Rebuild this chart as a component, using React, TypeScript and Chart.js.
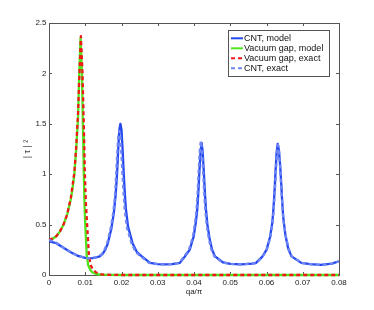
import React, { useEffect, useRef } from "react";
import { Chart, registerables } from "chart.js";

Chart.register(...registerables);

// ---- data ----
const cntModelX = [0, 0.002, 0.004, 0.006, 0.008, 0.010, 0.011, 0.012, 0.013, 0.0140, 0.0148, 0.0155, 0.0162, 0.0172, 0.0179, 0.0184, 0.0188, 0.0191, 0.0194, 0.0197, 0.0200, 0.0203, 0.0206, 0.0209, 0.0212, 0.0218, 0.0231, 0.0242, 0.0256, 0.0279, 0.030, 0.032, 0.034,
  0.0361, 0.0374, 0.0388, 0.0399, 0.0405, 0.0409, 0.0412, 0.0415, 0.0418, 0.0421, 0.0424, 0.0427, 0.0430, 0.0433, 0.0437, 0.0443, 0.0450, 0.0458, 0.0480, 0.050, 0.053, 0.056,
  0.0571, 0.0588, 0.0600, 0.0610, 0.0616, 0.0619, 0.0622, 0.0625, 0.0628, 0.0631, 0.0634, 0.0637, 0.0640, 0.0643, 0.0646, 0.0652, 0.0660, 0.0669, 0.0696, 0.072, 0.075, 0.078, 0.080];
const cntModelY = [0.335, 0.315, 0.27, 0.225, 0.19, 0.17, 0.165, 0.167, 0.175, 0.185, 0.21, 0.25, 0.31, 0.46, 0.62, 0.8, 1.02, 1.25, 1.44, 1.5, 1.44, 1.25, 1.02, 0.82, 0.66, 0.48, 0.31, 0.23, 0.185, 0.12, 0.108, 0.105, 0.108,
  0.12, 0.18, 0.25, 0.38, 0.52, 0.65, 0.82, 1.03, 1.22, 1.31, 1.22, 1.03, 0.82, 0.65, 0.5, 0.36, 0.25, 0.185, 0.125, 0.11, 0.105, 0.113,
  0.12, 0.18, 0.25, 0.38, 0.52, 0.65, 0.82, 1.03, 1.22, 1.30, 1.24, 1.12, 0.95, 0.75, 0.58, 0.40, 0.26, 0.185, 0.12, 0.108, 0.1, 0.112, 0.135];

const vacModelX = [0, 0.001, 0.002, 0.003, 0.004, 0.005, 0.006, 0.0065, 0.007, 0.0075, 0.008, 0.0083, 0.0087, 0.0091, 0.0094, 0.0096, 0.0098, 0.0100, 0.0104, 0.0108, 0.0114, 0.012, 0.013, 0.014, 0.016, 0.020, 0.040, 0.060, 0.080];
const vacModelY = [0.35, 0.36, 0.385, 0.43, 0.5, 0.6, 0.75, 0.86, 1.0, 1.25, 1.55, 1.95, 2.35, 2.0, 1.4, 1.0, 0.7, 0.5, 0.2, 0.1, 0.05, 0.025, 0.01, 0.004, 0.001, 0, 0, 0, 0];

const vacExactX = [0, 0.001, 0.002, 0.003, 0.004, 0.005, 0.006, 0.007, 0.0075, 0.008, 0.0084, 0.0088, 0.0092, 0.0096, 0.0099, 0.0102, 0.0106, 0.0110, 0.0115, 0.012, 0.013, 0.014, 0.015, 0.017, 0.020, 0.040, 0.060, 0.080];
const vacExactY = [0.35, 0.36, 0.385, 0.43, 0.5, 0.6, 0.76, 1.02, 1.27, 1.6, 2.0, 2.37, 2.05, 1.5, 1.0, 0.7, 0.45, 0.2, 0.1, 0.06, 0.025, 0.01, 0.004, 0.001, 0, 0, 0, 0];

const cntExactX = [0, 0.002, 0.004, 0.006, 0.008, 0.010, 0.011, 0.012, 0.013, 0.0138, 0.0146, 0.0153, 0.0160, 0.0170, 0.0177, 0.0182, 0.0185, 0.0188, 0.0191, 0.0194, 0.0197, 0.0200, 0.0203, 0.0206, 0.0209, 0.0215, 0.0228, 0.0239, 0.0253, 0.0276, 0.030, 0.032, 0.034,
  0.0359, 0.0372, 0.0386, 0.0397, 0.0403, 0.0407, 0.0410, 0.0413, 0.0416, 0.0419, 0.0422, 0.0425, 0.0428, 0.0431, 0.0435, 0.0441, 0.0448, 0.0456, 0.0478, 0.050, 0.053, 0.056,
  0.0572, 0.0589, 0.0601, 0.0611, 0.0617, 0.0620, 0.0623, 0.0626, 0.0629, 0.0632, 0.0635, 0.0638, 0.0641, 0.0644, 0.0647, 0.0653, 0.0661, 0.0670, 0.0697, 0.072, 0.075, 0.078, 0.080];
const cntExactY = [0.35, 0.32, 0.27, 0.225, 0.19, 0.17, 0.165, 0.167, 0.175, 0.185, 0.21, 0.25, 0.31, 0.46, 0.61, 0.78, 0.98, 1.19, 1.37, 1.43, 1.37, 1.19, 0.98, 0.8, 0.64, 0.47, 0.31, 0.23, 0.185, 0.12, 0.108, 0.105, 0.108,
  0.12, 0.18, 0.25, 0.38, 0.52, 0.65, 0.82, 1.04, 1.24, 1.33, 1.24, 1.04, 0.82, 0.65, 0.5, 0.36, 0.25, 0.185, 0.125, 0.11, 0.105, 0.113,
  0.12, 0.18, 0.25, 0.38, 0.52, 0.65, 0.82, 1.03, 1.21, 1.29, 1.22, 1.05, 0.85, 0.67, 0.53, 0.39, 0.26, 0.185, 0.12, 0.108, 0.1, 0.112, 0.135];

const seriesLabels = ["CNT, model", "Vacuum gap, model", "Vacuum gap, exact", "CNT, exact"];
const xTickValues = [0, 0.01, 0.02, 0.03, 0.04, 0.05, 0.06, 0.07, 0.08];
const xTickLabels = ["0", "0.01", "0.02", "0.03", "0.04", "0.05", "0.06", "0.07", "0.08"];
const yTickValues = [0, 0.5, 1, 1.5, 2, 2.5];
const yTickLabels = ["0", "0.5", "1", "1.5", "2", "2.5"];
const xTitle = "qa/π";
const yTitle = "| τ | ²";

const FONT = "'Liberation Sans', Arial, sans-serif";

const pts = (xs: number[], ys: number[]) => xs.map((x, i) => ({ x, y: ys[i] }));

const framePlugin = {
  id: "frameTicks",
  beforeDatasetsDraw(chart: any) {
    const { ctx, chartArea: a, scales } = chart;
    ctx.save();
    ctx.strokeStyle = "#555";
    ctx.lineWidth = 1;
    ctx.strokeRect(Math.round(a.left) + 0.5, Math.round(a.top) + 0.5, Math.round(a.right - a.left), Math.round(a.bottom - a.top));
    const tl = 3;
    ctx.beginPath();
    xTickValues.forEach((v) => {
      const px = Math.round(scales.x.getPixelForValue(v)) + 0.5;
      ctx.moveTo(px, a.bottom);
      ctx.lineTo(px, a.bottom - tl);
      ctx.moveTo(px, a.top);
      ctx.lineTo(px, a.top + tl);
    });
    yTickValues.forEach((v) => {
      const py = Math.round(scales.y.getPixelForValue(v)) + 0.5;
      ctx.moveTo(a.left, py);
      ctx.lineTo(a.left + tl, py);
      ctx.moveTo(a.right, py);
      ctx.lineTo(a.right - tl, py);
    });
    ctx.stroke();
    ctx.restore();
  },
};

const legendPlugin = {
  id: "customLegend",
  afterDraw(chart: any) {
    const { ctx, chartArea: a } = chart;
    const boxRight = a.right - 10;
    const boxLeft = boxRight - 101;
    const boxTop = a.top + 7;
    const rowH = 10;
    const n = chart.data.datasets.length;
    const boxH = n * rowH + 6;
    ctx.save();
    ctx.fillStyle = "#fff";
    ctx.fillRect(boxLeft, boxTop, boxRight - boxLeft, boxH);
    ctx.strokeStyle = "#555";
    ctx.lineWidth = 1;
    ctx.strokeRect(Math.round(boxLeft) + 0.5, Math.round(boxTop) + 0.5, Math.round(boxRight - boxLeft), Math.round(boxH));
    ctx.font = `9px ${FONT}`;
    ctx.textBaseline = "middle";
    ctx.textAlign = "left";
    chart.data.datasets.forEach((ds: any, i: number) => {
      const y = boxTop + 8.3 + i * rowH;
      ctx.strokeStyle = ds.borderColor;
      ctx.lineWidth = 2;
      ctx.setLineDash(ds.borderDash || []);
      ctx.beginPath();
      ctx.moveTo(boxLeft + 3, y);
      ctx.lineTo(boxLeft + 15, y);
      ctx.stroke();
      ctx.setLineDash([]);
      ctx.fillStyle = "#111";
      ctx.fillText(ds.label, boxLeft + 16, y);
    });
    ctx.restore();
  },
};

export default function App() {
  const ref = useRef<HTMLCanvasElement | null>(null);
  useEffect(() => {
    if (!ref.current) return;
    const common = { pointRadius: 0, tension: 0, fill: false, borderWidth: 2.3, showLine: true, borderJoinStyle: "round", borderCapStyle: "butt" };
    const chart = new Chart(ref.current, {
      type: "scatter",
      data: {
        datasets: [
          { ...common, label: seriesLabels[0], data: pts(cntModelX, cntModelY), borderColor: "#2448f0", order: 4 },
          { ...common, label: seriesLabels[1], data: pts(vacModelX, vacModelY), borderColor: "#4fe51c", order: 3, clip: 3 },
          { ...common, label: seriesLabels[2], data: pts(vacExactX, vacExactY), borderColor: "#f01818", borderDash: [4, 3], order: 2, clip: 3 },
          { ...common, label: seriesLabels[3], data: pts(cntExactX, cntExactY), borderColor: "#6f86f5", borderDash: [4, 3], order: 1 },
        ],
      } as any,
      options: {
        responsive: false,
        animation: false,
        devicePixelRatio: 1,
        layout: { padding: { left: 0, top: 23, right: 35, bottom: 0 } },
        plugins: { legend: { display: false }, tooltip: { enabled: false } },
        scales: {
          x: {
            type: "linear",
            min: 0,
            max: 0.08,
            grid: { display: false, drawTicks: false },
            border: { display: false },
            afterBuildTicks: (s: any) => { s.ticks = xTickValues.map((v) => ({ value: v })); },
            afterFit: (s: any) => { s.height = 35; },
            ticks: {
              padding: 3,
              maxRotation: 0,
              autoSkip: false,
              color: "#222",
              font: { family: FONT, size: 8 },
              callback: (v: any) => { const i = xTickValues.findIndex((t) => Math.abs(t - v) < 1e-9); return i >= 0 ? xTickLabels[i] : ""; },
            },
            title: { display: true, text: xTitle, color: "#222", font: { family: FONT, size: 8 }, padding: { top: 0, bottom: 13.5 } },
          },
          y: {
            type: "linear",
            min: 0,
            max: 2.5,
            grid: { display: false, drawTicks: false },
            border: { display: false },
            afterBuildTicks: (s: any) => { s.ticks = yTickValues.map((v) => ({ value: v })); },
            afterFit: (s: any) => { s.width = 49; },
            ticks: {
              padding: 2.5,
              autoSkip: false,
              color: "#222",
              font: { family: FONT, size: 8 },
              callback: (v: any) => { const i = yTickValues.findIndex((t) => Math.abs(t - v) < 1e-9); return i >= 0 ? yTickLabels[i] : ""; },
            },
            title: { display: true, text: yTitle, color: "#444", font: { family: FONT, size: 9 }, padding: { top: 22, bottom: 0 } },
          },
        },
      } as any,
      plugins: [framePlugin, legendPlugin],
    });
    return () => chart.destroy();
  }, []);
  return (
    <div style={{ position: "absolute", left: 0, top: 0, width: 374, height: 310, background: "#fff" }}>
      <canvas ref={ref} width={374} height={310} />
    </div>
  );
}
